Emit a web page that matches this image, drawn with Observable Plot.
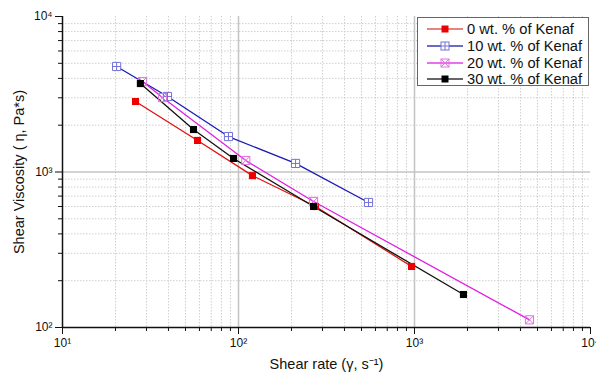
<!DOCTYPE html>
<html><head><meta charset="utf-8">
<script src="https://cdn.jsdelivr.net/npm/d3@7"></script>
<script src="https://cdn.jsdelivr.net/npm/@observablehq/plot@0.6"></script>
<style>
body{margin:0;background:#fff;font-family:"Liberation Sans",Arial,sans-serif}
#wrap{position:relative;width:596px;height:374px;overflow:hidden}
#legend{position:absolute;left:417px;top:17px;width:172px;height:69px;border:1px solid #666;background:#fff;box-sizing:border-box;padding-top:3px}
.row{display:flex;align-items:center;height:16.7px;font-size:14.7px;color:#111;white-space:nowrap}
.row svg{margin-left:9px;margin-right:4px}
#chart g[aria-label="x-axis label"] text, #chart g[aria-label="y-axis label"] text{font-size:14.5px}
#chart g[aria-label="x-axis tick label"] text, #chart g[aria-label="y-axis tick label"] text{font-size:12px}
</style></head><body>
<div id="wrap"><div id="chart"></div><div id="legend"></div></div>
<script>
const seriesNames = ["0 wt. % of Kenaf","10 wt. % of Kenaf","20 wt. % of Kenaf","30 wt. % of Kenaf"];
const x0 = [26, 58.5, 120, 274, 962];
const y0 = [2840, 1596, 948, 600, 247];
const x10 = [20.3, 39.5, 87.7, 211, 548];
const y10 = [4770, 3060, 1690, 1135, 637];
const x20 = [28.5, 37, 110, 267, 4500];
const y20 = [3820, 3010, 1186, 646, 112];
const x30 = [27.7, 55.5, 93.7, 267, 1897];
const y30 = [3705, 1875, 1222, 600, 163];
const majorTicks = [10, 100, 1000, 10000];
const majorTicksY = [100, 1000, 10000];
const supers = {1:"¹",2:"²",3:"³",4:"⁴"};

const lineColors = ["#e01010","#1a1ab8","#e020e0","#111111"];
const legendLineColors = ["#e05a5a","#3a3ab0","#e040e0","#333333"];
const markColors = ["#ee0000","#7272d8","#e070e0","#000000"];

const sqPlus = {draw(c, size){const h=Math.sqrt(size)/2;c.moveTo(-h,-h);c.lineTo(h,-h);c.lineTo(h,h);c.lineTo(-h,h);c.closePath();c.moveTo(0,-h);c.lineTo(0,h);c.moveTo(-h,0);c.lineTo(h,0);}};
const sqX = {draw(c, size){const h=Math.sqrt(size)/2;c.moveTo(-h,-h);c.lineTo(h,-h);c.lineTo(h,h);c.lineTo(-h,h);c.closePath();c.moveTo(-h,-h);c.lineTo(h,h);c.moveTo(h,-h);c.lineTo(-h,h);}};

const xsAll = [x0,x10,x20,x30], ysAll=[y0,y10,y20,y30];
const data = [];
xsAll.forEach((xs,i)=>xs.forEach((x,j)=>data.push({s:i, x, y: ysAll[i][j]})));

const minorX = [], minorY = [];
for (const d of [10,100,1000]) for (let k=2;k<=9;k++) minorX.push(d*k);
for (const d of [100,1000]) for (let k=2;k<=9;k++) minorY.push(d*k);
const fmt = v => "10" + supers[Math.round(Math.log10(v))];

const marks = [
  Plot.gridX(minorX, {stroke:"#cfcfcf", strokeOpacity:1, strokeDasharray:"1.5,1.5"}),
  Plot.gridY(minorY, {stroke:"#cfcfcf", strokeOpacity:1, strokeDasharray:"1.5,1.5"}),
  Plot.gridX([100,1000], {stroke:"#c4c4c4", strokeOpacity:1, strokeWidth:1.5}),
  Plot.gridY([1000], {stroke:"#c4c4c4", strokeOpacity:1, strokeWidth:1.5}),
  Plot.axisX({ticks:majorTicks, tickFormat:fmt, tickSize:7, tickPadding:4, label:"Shear rate (γ, s⁻¹)", labelAnchor:"center", labelArrow:"none", labelOffset:41}),
  Plot.axisX({ticks:minorX, tickFormat:()=>"", tickSize:4, label:null}),
  Plot.axisY({ticks:majorTicksY, tickFormat:fmt, tickSize:7, tickPadding:3, label:"Shear Viscosity ( η, Pa*s)", labelAnchor:"center", labelArrow:"none", labelOffset:49}),
  Plot.axisY({ticks:minorY, tickFormat:()=>"", tickSize:4, label:null}),
  Plot.ruleX([10], {stroke:"#111", strokeWidth:1.5}),
  Plot.ruleY([100], {stroke:"#111", strokeWidth:1.5}),
];
[0,1,2,3].forEach(i=>{
  const d = data.filter(r=>r.s===i);
  marks.push(Plot.line(d, {x:"x", y:"y", stroke:lineColors[i], strokeWidth:1.3}));
});
marks.push(Plot.dot(data.filter(r=>r.s===0), {x:"x", y:"y", symbol:"square", r:4, fill:markColors[0]}));
marks.push(Plot.dot(data.filter(r=>r.s===1), {x:"x", y:"y", symbol:sqPlus, r:4.6, fill:"white", stroke:markColors[1], strokeWidth:1}));
marks.push(Plot.dot(data.filter(r=>r.s===2), {x:"x", y:"y", symbol:sqX, r:4.6, fill:"none", stroke:markColors[2], strokeWidth:1}));
marks.push(Plot.dot(data.filter(r=>r.s===3), {x:"x", y:"y", symbol:"square", r:4, fill:markColors[3]}));

const chart = Plot.plot({
  width:596, height:374,
  marginLeft:62, marginRight:6, marginTop:16, marginBottom:47,
  style:{fontFamily:"Liberation Sans, Arial, sans-serif", fontSize:"12px", color:"#111", background:"#fff"},
  x:{type:"log", domain:[10,10000]},
  y:{type:"log", domain:[100,10000]},
  marks
});
document.getElementById("chart").appendChild(chart);

const leg = document.getElementById("legend");
const markerSvg = [
  `<rect x="14.5" y="2.5" width="7" height="7" fill="${markColors[0]}"/>`,
  `<rect x="14" y="2" width="8" height="8" fill="white" stroke="${markColors[1]}"/><path d="M18 2V10M14 6H22" stroke="${markColors[1]}"/>`,
  `<rect x="14" y="2" width="8" height="8" fill="none" stroke="${markColors[2]}"/><path d="M14 2L22 10M22 2L14 10" stroke="${markColors[2]}"/>`,
  `<rect x="14.5" y="2.5" width="7" height="7" fill="${markColors[3]}"/>`
];
seriesNames.forEach((n,i)=>{
  const row = document.createElement("div");
  row.className="row";
  row.innerHTML = `<svg width="36" height="12"><line x1="0" y1="6" x2="36" y2="6" stroke="${legendLineColors[i]}" stroke-width="1.3"/>${markerSvg[i]}</svg><span>${n}</span>`;
  leg.appendChild(row);
});
</script>
</body></html>
